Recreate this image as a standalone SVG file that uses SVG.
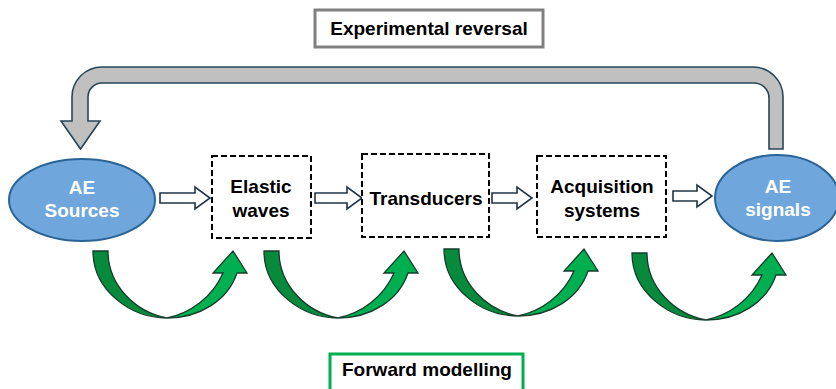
<svg xmlns="http://www.w3.org/2000/svg" width="836" height="389" viewBox="0 0 836 389">
<style>
.lbl{font-family:"Liberation Sans",Arial,sans-serif;font-weight:bold;font-size:19px;text-anchor:middle;fill:#000}
.wlbl{font-family:"Liberation Sans",Arial,sans-serif;font-weight:bold;font-size:19px;text-anchor:middle;fill:#fff}
.ell{fill:#6fa7dc;stroke:#2a6496;stroke-width:2}
.dash{fill:#fff;stroke:#000;stroke-width:2;stroke-dasharray:6 3}
.hollow{fill:#fff;stroke:#1f3447;stroke-width:1.6;stroke-linejoin:miter}
.gd{fill:#088a3c;stroke:#153c2c;stroke-width:1.3}
.gl{fill:#00b050;stroke:#153c2c;stroke-width:1.3}
</style>
<defs>
<g id="garrow">
<path class="gd" d="M93,251 L108,251 C108,285 135,312 167,318 C130,318 93,290 93,251 Z"/>
<path class="gl" d="M167,318 C190,313 212,298 223,273 L213,273 L233,251 L247,273 L237,273 C228,300 200,318 167,318 Z"/>
</g>
</defs>
<g id="label-reversal">
<rect x="315" y="10" width="228" height="37" fill="#fff" stroke="#808080" stroke-width="3"/>
<text class="lbl" x="429" y="35" font-size="19.5">Experimental reversal</text>
</g>
<g id="label-forward">
<rect x="330" y="354" width="193" height="40" fill="#fff" stroke="#00b050" stroke-width="3"/>
<text class="lbl" x="427" y="376">Forward modelling</text>
</g>
<g id="connectors">
<path id="reversal-arrow" d="M769,149 L769,98 A15,15 0 0 0 754,83 L102,83 A14,14 0 0 0 88,97 L88,121 L100,121 L80.5,149 L61,121 L72,121 L72,97 A30,30 0 0 1 102,67 L753,67 A30,30 0 0 1 783,97 L783,149 Z" fill="#c0c0c0" stroke="#27465a" stroke-width="1.6"/>
<path class="hollow" d="M160,193 L195,193 L195,187 L210,198 L195,209 L195,203 L160,203 Z"/>
<path class="hollow" d="M315,193 L347,193 L347,187 L362,198 L347,209 L347,203 L315,203 Z"/>
<path class="hollow" d="M492,193 L517,193 L517,187 L532,198 L517,209 L517,203 L492,203 Z"/>
<path class="hollow" d="M673,191 L697,191 L697,185 L712,196 L697,207 L697,201 L673,201 Z"/>
<use href="#garrow"/>
<use href="#garrow" transform="translate(171,0)"/>
<use href="#garrow" transform="translate(351,-2)"/>
<use href="#garrow" transform="translate(539,2)"/>
</g>
<g id="ae-sources">
<ellipse class="ell" cx="82" cy="200" rx="73" ry="41"/>
<text class="wlbl" x="82" y="194">AE</text>
<text class="wlbl" x="82" y="217">Sources</text>
</g>
<g id="elastic-waves">
<rect class="dash" x="212" y="156" width="99" height="82"/>
<text class="lbl" x="261" y="193">Elastic</text>
<text class="lbl" x="261" y="217">waves</text>
</g>
<g id="transducers">
<rect class="dash" x="362" y="154" width="127" height="83"/>
<text class="lbl" x="426" y="205">Transducers</text>
</g>
<g id="acquisition">
<rect class="dash" x="537" y="156" width="129" height="81"/>
<text class="lbl" x="602" y="193">Acquisition</text>
<text class="lbl" x="602" y="217">systems</text>
</g>
<g id="ae-signals">
<ellipse class="ell" cx="777" cy="198" rx="62" ry="43"/>
<text class="wlbl" x="778" y="193">AE</text>
<text class="wlbl" x="778" y="216">signals</text>
</g>
</svg>
